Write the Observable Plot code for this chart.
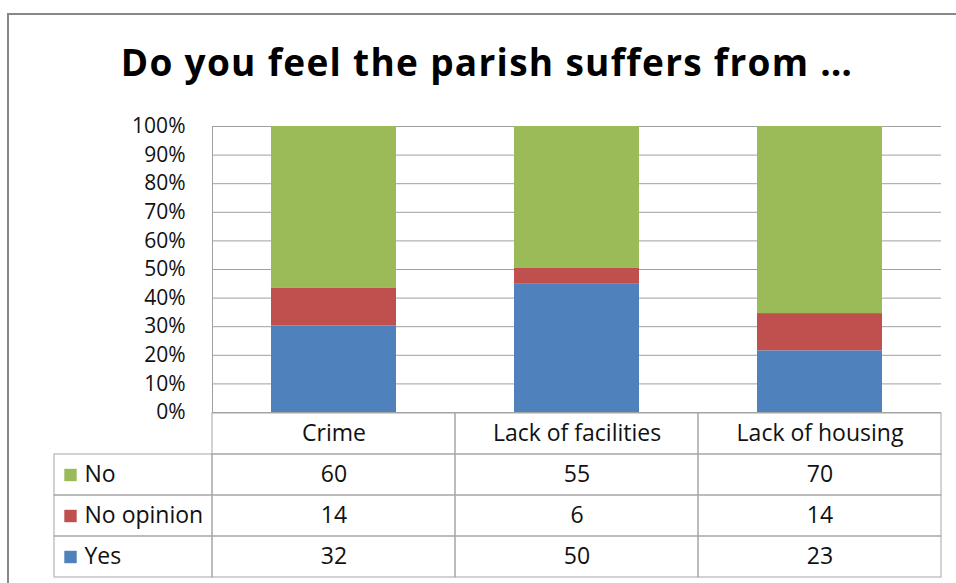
<!DOCTYPE html>
<html><head><meta charset="utf-8">
<script src="https://cdn.jsdelivr.net/npm/d3@7"></script>
<script src="https://cdn.jsdelivr.net/npm/@observablehq/plot@0.6"></script>
<style>
html,body{margin:0;padding:0;background:#fff;overflow:hidden;}
#page{position:relative;width:956px;height:583px;overflow:hidden;font-family:"Open Sans",sans-serif;}
#frame{position:absolute;left:7px;top:13px;width:1000px;height:700px;border-left:2px solid #888;border-top:2px solid #888;}
#title{position:absolute;left:0;top:42px;width:974px;text-align:center;font-weight:bold;font-size:37px;letter-spacing:1.3px;color:#000;line-height:40px;white-space:nowrap;}
#chart{position:absolute;left:0;top:100px;}
#table{position:absolute;left:0;top:412px;}
</style></head><body>
<div id="page"><div id="frame"></div><div id="title">Do you feel the parish suffers from …</div><div id="chart"></div><div id="table"></div></div>
<script>
const categories = ["Crime", "Lack of facilities", "Lack of housing"];
const seriesNames = ["No", "No opinion", "Yes"];
const stackOrder = ["Yes", "No opinion", "No"];
const seriesColors = ["#9BBB59", "#C0504D", "#4F81BD"];
const noValues = [60, 55, 70];
const noOpinionValues = [14, 6, 14];
const yesValues = [32, 50, 23];
const yTicks = [0, 0.1, 0.2, 0.3, 0.4, 0.5, 0.6, 0.7, 0.8, 0.9, 1];
const headerRow = "header";

const valuesBySeries = {"No": noValues, "No opinion": noOpinionValues, "Yes": yesValues};
const rows = [];
for (const s of seriesNames) categories.forEach((c, i) => rows.push({category: c, series: s, value: valuesBySeries[s][i]}));

const gridColor = "#a0a0a0";
const borderColor = "#a6a6a6";

const chart = Plot.plot({
  width: 956, height: 320,
  marginTop: 26, marginBottom: 8, marginLeft: 212, marginRight: 15,
  style: {fontFamily: "'Open Sans', sans-serif", fontSize: "21px", color: "#111", background: "transparent", overflow: "visible"},
  x: {domain: categories, padding: 0, axis: null},
  y: {domain: [0, 1]},
  color: {domain: seriesNames, range: seriesColors},
  marks: [
    Plot.gridY(yTicks, {stroke: gridColor, strokeOpacity: 1}),
    Plot.axisY(yTicks, {tickFormat: d3.format(".0%"), tickSize: 0, tickPadding: 27, fontSize: 21, label: null}),
    Plot.barY(rows, Plot.stackY({x: "category", y: "value", fill: "series", order: stackOrder, offset: "normalize", insetLeft: 59, insetRight: 59})),
    Plot.frame({anchor: "left", stroke: gridColor})
  ]
});
document.getElementById("chart").appendChild(chart);

const table = Plot.plot({
  width: 956, height: 170,
  marginTop: 0, marginBottom: 4, marginLeft: 212, marginRight: 15,
  style: {fontFamily: "'Open Sans', sans-serif", fontSize: "23px", color: "#111", background: "transparent", overflow: "visible"},
  x: {domain: categories, padding: 0, axis: null},
  y: {domain: [headerRow, ...seriesNames], padding: 0, axis: null},
  color: {domain: seriesNames, range: seriesColors},
  marks: [
    Plot.cell(categories, {x: d => d, y: () => headerRow, stroke: borderColor, fill: "none"}),
    Plot.cell(rows, {x: "category", y: "series", stroke: borderColor, fill: "none"}),
    Plot.cell(seriesNames, {x: () => categories[0], y: d => d, insetLeft: -158, insetRight: 243, stroke: borderColor, fill: "none"}),
    Plot.dot(seriesNames, {y: d => d, frameAnchor: "left", dx: -142, symbol: "square", r: 7, fill: d => d}),
    Plot.text(seriesNames, {y: d => d, text: d => d, frameAnchor: "left", dx: -128, textAnchor: "start", fontSize: 23, fill: "#111"}),
    Plot.text(categories, {x: d => d, y: () => headerRow, text: d => d, fontSize: 23, fill: "#111"}),
    Plot.text(rows, {x: "category", y: "series", text: "value", fontSize: 23, fill: "#111"})
  ]
});
document.getElementById("table").appendChild(table);
</script>
</body></html>
